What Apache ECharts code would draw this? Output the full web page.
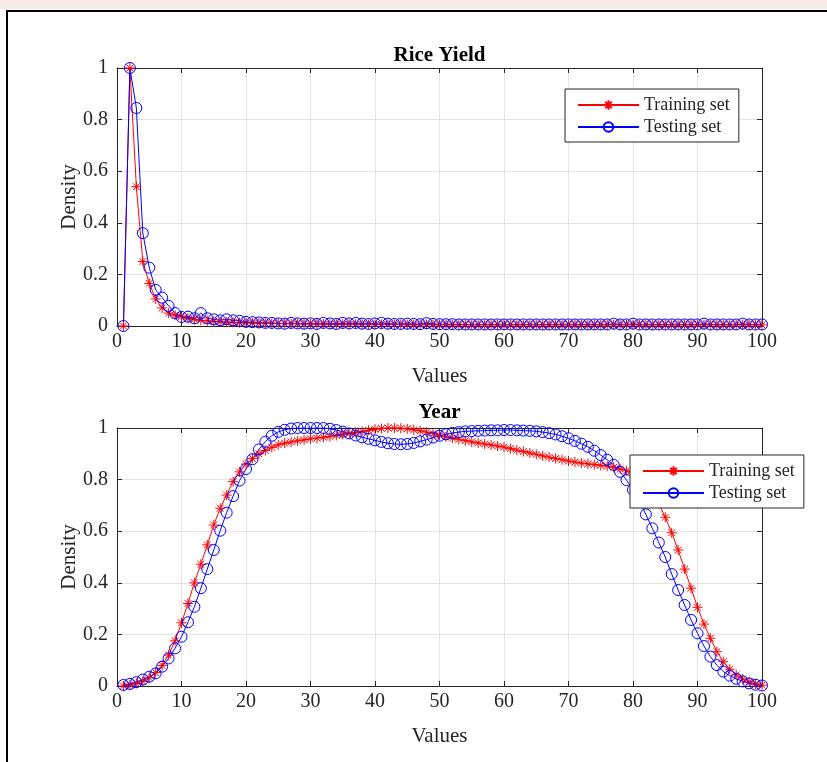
<!DOCTYPE html>
<html><head><meta charset="utf-8">
<script src="https://cdn.jsdelivr.net/npm/echarts@6/dist/echarts.min.js"></script>
<style>html,body{margin:0;padding:0;background:#fff}#c{width:827px;height:762px}</style>
</head><body><div id="c"></div>
<script>
// ---- data ----
const titles = ['Rice Yield', 'Year'];
const seriesNames = ['Training set', 'Testing set'];
const xTicks = [0, 10, 20, 30, 40, 50, 60, 70, 80, 90, 100];
const yTicks = [0, 0.2, 0.4, 0.6, 0.8, 1];

const riceTraining = [
 0, 1, 0.54, 0.25, 0.165, 0.105, 0.07, 0.05, 0.042, 0.036,
 0.03, 0.026, 0.022, 0.02, 0.018, 0.016, 0.015, 0.014, 0.013, 0.012,
 0.012, 0.011, 0.011, 0.010, 0.010, 0.009, 0.009, 0.009, 0.008, 0.008,
 0.008, 0.008, 0.007, 0.007, 0.007, 0.007, 0.007, 0.006, 0.006, 0.006,
 0.006, 0.006, 0.006, 0.006, 0.005, 0.005, 0.005, 0.006, 0.005, 0.005,
 0.005, 0.005, 0.005, 0.005, 0.005, 0.005, 0.005, 0.005, 0.005, 0.005,
 0.005, 0.005, 0.005, 0.005, 0.005, 0.005, 0.005, 0.005, 0.005, 0.005,
 0.005, 0.005, 0.005, 0.005, 0.005, 0.005, 0.005, 0.005, 0.005, 0.005,
 0.005, 0.005, 0.005, 0.005, 0.005, 0.005, 0.005, 0.005, 0.005, 0.005,
 0.005, 0.005, 0.005, 0.005, 0.005, 0.005, 0.005, 0.005, 0.005, 0.004
];
const riceTesting = [
 0, 1, 0.845, 0.36, 0.226, 0.14, 0.11, 0.078, 0.05, 0.035,
 0.036, 0.03, 0.05, 0.03, 0.026, 0.022, 0.026, 0.022, 0.02, 0.016,
 0.015, 0.014, 0.012, 0.012, 0.010, 0.009, 0.012, 0.010, 0.009, 0.010,
 0.008, 0.012, 0.010, 0.008, 0.012, 0.010, 0.012, 0.009, 0.008, 0.010,
 0.012, 0.009, 0.008, 0.008, 0.009, 0.008, 0.007, 0.011, 0.008, 0.007,
 0.007, 0.007, 0.006, 0.006, 0.006, 0.006, 0.006, 0.006, 0.006, 0.006,
 0.006, 0.006, 0.006, 0.006, 0.006, 0.006, 0.006, 0.006, 0.006, 0.006,
 0.006, 0.006, 0.006, 0.006, 0.006, 0.006, 0.009, 0.006, 0.006, 0.009,
 0.006, 0.006, 0.006, 0.006, 0.006, 0.006, 0.006, 0.006, 0.006, 0.006,
 0.009, 0.006, 0.006, 0.006, 0.006, 0.006, 0.009, 0.006, 0.006, 0.006
];
const yearTraining = [
 0.0, 0.004, 0.01, 0.018, 0.032, 0.052, 0.08, 0.12, 0.175, 0.245,
 0.32, 0.4, 0.472, 0.547, 0.624, 0.689, 0.74, 0.792, 0.83, 0.86,
 0.882, 0.9, 0.913, 0.925, 0.935, 0.941, 0.946, 0.95, 0.954, 0.958,
 0.961, 0.964, 0.967, 0.971, 0.975, 0.979, 0.983, 0.987, 0.991, 0.995,
 0.998, 1.0, 1.0, 0.999, 0.997, 0.993, 0.989, 0.984, 0.978, 0.972,
 0.966, 0.961, 0.956, 0.951, 0.946, 0.942, 0.938, 0.934, 0.93, 0.926,
 0.92, 0.914, 0.909, 0.903, 0.898, 0.892, 0.887, 0.882, 0.877, 0.872,
 0.868, 0.864, 0.861, 0.858, 0.855, 0.852, 0.848, 0.842, 0.834, 0.824,
 0.81, 0.787, 0.752, 0.707, 0.654, 0.594, 0.527, 0.453, 0.379, 0.305,
 0.24, 0.185, 0.133, 0.094, 0.065, 0.043, 0.027, 0.016, 0.008, 0.003
];
const yearTesting = [
 0.004, 0.008, 0.015, 0.025, 0.036, 0.049, 0.075, 0.107, 0.146, 0.191,
 0.247, 0.307, 0.379, 0.453, 0.527, 0.602, 0.672, 0.736, 0.796, 0.841,
 0.879, 0.917, 0.947, 0.97, 0.985, 0.993, 0.998, 1.0, 1.0, 1.0,
 1.0, 1.0, 0.997, 0.992, 0.986, 0.979, 0.971, 0.964, 0.958, 0.952,
 0.946, 0.941, 0.938, 0.937, 0.938, 0.942, 0.948, 0.955, 0.963, 0.97,
 0.976, 0.981, 0.984, 0.987, 0.988, 0.989, 0.99, 0.991, 0.991, 0.992,
 0.992, 0.991, 0.99, 0.989, 0.987, 0.984, 0.98, 0.975, 0.968, 0.96,
 0.95, 0.939, 0.927, 0.912, 0.895, 0.877, 0.857, 0.83, 0.798, 0.76,
 0.715, 0.665, 0.611, 0.556, 0.5, 0.434, 0.372, 0.314, 0.256, 0.204,
 0.155, 0.114, 0.081, 0.056, 0.04, 0.028, 0.018, 0.01, 0.005, 0.002
];
const xValues = riceTraining.map((_, i) => i + 1); // sample index 1..100

// ---- chart ----
const FONT = 'Liberation Serif, Times New Roman, serif';
const AX = '#262626';
const STAR = 'path://M5,0L5,10M0,5L10,5M1.6,1.6L8.4,8.4M1.6,8.4L8.4,1.6';
const pairs = arr => arr.map((v, i) => [xValues[i], v]);

const gridTops = [68, 428];
const grids = gridTops.map(t => ({left: 117, width: 645, top: t, height: 258, show: false}));

const xAxes = [], yAxes = [];
gridTops.forEach((t, g) => {
  xAxes.push({
    gridIndex: g, type: 'value', min: xTicks[0], max: xTicks[xTicks.length-1], interval: 10,
    position: 'bottom',
    axisLine: {show: true, onZero: false, lineStyle: {color: AX, width: 1}},
    axisTick: {show: true, inside: true, length: 5, lineStyle: {color: AX}},
    axisLabel: {color: AX, fontFamily: FONT, fontSize: 20, margin: 6},
    splitLine: {show: true, lineStyle: {color: '#e3e3e3', width: 1}},
    name: 'Values', nameLocation: 'middle', nameGap: 40, nameMoveOverlap: false,
    nameTextStyle: {color: AX, fontFamily: FONT, fontSize: 21}
  });
  xAxes.push({
    gridIndex: g, type: 'value', min: 0, max: 100, interval: 10, position: 'top',
    axisLine: {show: true, onZero: false, lineStyle: {color: AX, width: 1}},
    axisTick: {show: true, inside: true, length: 5, lineStyle: {color: AX}},
    axisLabel: {show: false}, splitLine: {show: false}
  });
  yAxes.push({
    gridIndex: g, type: 'value', min: yTicks[0], max: yTicks[yTicks.length-1], interval: 0.2,
    position: 'left',
    axisLine: {show: true, onZero: false, lineStyle: {color: AX, width: 1}},
    axisTick: {show: true, inside: true, length: 5, lineStyle: {color: AX}},
    axisLabel: {color: AX, fontFamily: FONT, fontSize: 20, margin: 9},
    splitLine: {show: true, lineStyle: {color: '#e3e3e3', width: 1}},
    name: 'Density', nameLocation: 'middle', nameGap: 37, nameRotate: 90, nameMoveOverlap: false,
    nameTextStyle: {color: AX, fontFamily: FONT, fontSize: 21}
  });
  yAxes.push({
    gridIndex: g, type: 'value', min: 0, max: 1, interval: 0.2, position: 'right',
    axisLine: {show: true, onZero: false, lineStyle: {color: AX, width: 1}},
    axisTick: {show: true, inside: true, length: 5, lineStyle: {color: AX}},
    axisLabel: {show: false}, splitLine: {show: false}
  });
});

const datasets = [[riceTraining, riceTesting], [yearTraining, yearTesting]];
const series = [];
datasets.forEach((pair, g) => {
  series.push({
    type: 'line', name: seriesNames[0], xAxisIndex: g*2, yAxisIndex: g*2,
    data: pairs(pair[0]), color: '#ff0000',
    symbol: STAR, symbolSize: 10, showAllSymbol: true, animation: false,
    lineStyle: {color: '#ff0000', width: 1},
    itemStyle: {color: '#ff0000', borderColor: '#ff0000', borderWidth: 1}
  });
  series.push({
    type: 'line', name: seriesNames[1], xAxisIndex: g*2, yAxisIndex: g*2,
    data: pairs(pair[1]), color: '#0000ff',
    symbol: 'circle', symbolSize: 11, showAllSymbol: true, animation: false,
    lineStyle: {color: '#0000ff', width: 1},
    itemStyle: {color: 'rgba(0,0,0,0)', borderColor: '#0000ff', borderWidth: 1}
  });
});

const legendBase = {
  orient: 'vertical', itemWidth: 61, itemHeight: 12, itemGap: 4,
  padding: [7, 9, 6, 12], backgroundColor: '#fff', borderColor: '#262626', borderWidth: 1,
  borderRadius: 0, textStyle: {color: AX, fontFamily: FONT, fontSize: 18},
  data: seriesNames, selectedMode: false
};

const option = {
  animation: false,
  backgroundColor: '#fff',
  grid: grids,
  xAxis: xAxes,
  yAxis: yAxes,
  series: series,
  legend: [
    Object.assign({}, legendBase, {left: 565, top: 89}),
    Object.assign({}, legendBase, {left: 630, top: 455})
  ],
  graphic: [
    {type: 'rect', shape: {x: 0, y: 0, width: 827, height: 9}, style: {fill: '#f6e9e6'}, silent: true, z: -1},
    {type: 'rect', shape: {x: 7, y: 11, width: 900, height: 900}, style: {fill: null, stroke: '#000', lineWidth: 2}, silent: true},
    {type: 'text', x: 439.5, y: 56, style: {text: titles[0], fontFamily: FONT, fontWeight: 'bold', fontSize: 21, fill: '#000', align: 'center', verticalAlign: 'middle'}, z: 10},
    {type: 'text', x: 439.5, y: 413, style: {text: titles[1], fontFamily: FONT, fontWeight: 'bold', fontSize: 21, fill: '#000', align: 'center', verticalAlign: 'middle'}, z: 10}
  ]
};
const chart = echarts.init(document.getElementById('c'), null, {renderer: 'canvas'});
chart.setOption(option);
</script></body></html>
